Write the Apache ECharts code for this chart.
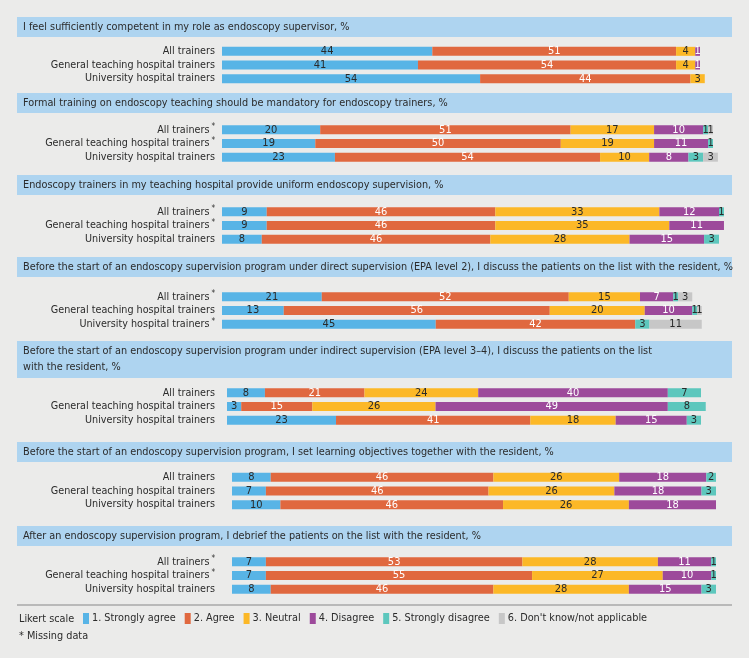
<!DOCTYPE html>
<html><head><meta charset="utf-8">
<script src="https://cdn.jsdelivr.net/npm/echarts@6/dist/echarts.min.js"></script>
<style>html,body{margin:0;padding:0;background:#ebebea;}#c{width:749px;height:658px;}</style>
</head><body><div id="c"></div>
<script>
// ---------- DATA ----------
const questions = [
  'I feel sufficiently competent in my role as endoscopy supervisor, %',
  'Formal training on endoscopy teaching should be mandatory for endoscopy trainers, %',
  'Endoscopy trainers in my teaching hospital provide uniform endoscopy supervision, %',
  'Before the start of an endoscopy supervision program under direct supervision (EPA level 2), I discuss the patients on the list with the resident, %',
  'Before the start of an endoscopy supervision program under indirect supervision (EPA level 3\u20134), I discuss the patients on the list\nwith the resident, %',
  'Before the start of an endoscopy supervision program, I set learning objectives together with the resident, %',
  'After an endoscopy supervision program, I debrief the patients on the list with the resident, %'
];
const groups = ['All trainers', 'General teaching hospital trainers', 'University hospital trainers'];
// 1 = "missing data" asterisk after the group label
const missing = [[0,0,0],[1,1,0],[1,1,0],[1,0,1],[0,0,0],[0,0,0],[1,1,0]];
const likertLevels = ['1. Strongly agree', '2. Agree', '3. Neutral', '4. Disagree', '5. Strongly disagree', "6. Don't know/not applicable"];
const stronglyAgree    = [[44,41,54],[20,19,23],[9,9,8],[21,13,45],[8,3,23],[8,7,10],[7,7,8]];
const agree            = [[51,54,44],[51,50,54],[46,46,46],[52,56,42],[21,15,41],[46,46,46],[53,55,46]];
const neutral          = [[4,4,3],[17,19,10],[33,35,28],[15,20,0],[24,26,18],[26,26,26],[28,27,28]];
const disagree         = [[1,1,0],[10,11,8],[12,11,15],[7,10,0],[40,49,15],[18,18,18],[11,10,15]];
const stronglyDisagree = [[0,0,0],[1,1,3],[1,0,3],[1,1,3],[7,8,3],[2,3,0],[1,1,3]];
const dontKnow         = [[0,0,0],[1,0,3],[0,0,0],[3,1,11],[0,0,0],[0,0,0],[0,0,0]];

// ---------- STYLE / LAYOUT ----------
const levelData = [stronglyAgree, agree, neutral, disagree, stronglyDisagree, dontKnow];
const colors = ['#58b4e6', '#e0683f', '#fcb827', '#9d4a9b', '#5dc7bd', '#c7c7c7'];
const labelColors = ['#2a2a2a', '#ffffff', '#2a2a2a', '#ffffff', '#2a2a2a', '#2a2a2a'];
const FONT = "'Liberation Sans Narrow', 'Arial Narrow', 'DejaVu Sans Condensed', sans-serif";
const TXT = '#2b2b2b';
const layout = [
  {titleTop: 17,  titleH: 20, gridTop: 44.5,  left: 222, right: 49},
  {titleTop: 93,  titleH: 20, gridTop: 123,   left: 222, right: 36},
  {titleTop: 175, titleH: 20, gridTop: 205,   left: 222, right: 30},
  {titleTop: 257, titleH: 20, gridTop: 290,   left: 222, right: 52},
  {titleTop: 341, titleH: 37, gridTop: 386,   left: 227, right: 48},
  {titleTop: 442, titleH: 20, gridTop: 470.5, left: 232, right: 33},
  {titleTop: 526, titleH: 20, gridTop: 555,   left: 232, right: 33}
];
const ROWS_H = 41;

const grids = [], xAxes = [], yAxes = [], series = [], graphics = [];
layout.forEach((L, p) => {
  grids.push({left: L.left, right: L.right, top: L.gridTop, height: ROWS_H});
  xAxes.push({type: 'value', gridIndex: p, min: 0, max: 100, show: false});
  yAxes.push({
    type: 'category', gridIndex: p, inverse: true,
    data: groups.map((g, i) => missing[p][i] ? '{n|' + g + '}{s|*}' : '{n|' + g + '}'),
    axisLine: {show: false}, axisTick: {show: false}, splitLine: {show: false},
    axisLabel: {
      interval: 0,
      margin: L.left - 215,
      rich: {
        n: {fontFamily: FONT, fontSize: 10.7, color: TXT},
        s: {fontFamily: FONT, fontSize: 8, color: TXT, padding: [0, 0, 5, 2]}
      }
    }
  });
  levelData.forEach((arr, k) => {
    series.push({
      type: 'bar', name: likertLevels[k], xAxisIndex: p, yAxisIndex: p,
      stack: 'panel' + p, barWidth: 9, clip: false,
      itemStyle: {color: colors[k]},
      label: {
        show: true, position: 'inside', fontFamily: FONT, fontSize: 11,
        color: labelColors[k],
        formatter: prm => (prm.value > 0 ? String(prm.value) : '')
      },
      emphasis: {disabled: true},
      data: arr[p].map(v => (v > 0 ? v : null))
    });
  });
  graphics.push({type: 'rect', shape: {x: 17, y: L.titleTop, width: 715, height: L.titleH}, style: {fill: '#aed4f0'}, silent: true});
  graphics.push({type: 'text', x: 23, y: L.titleTop + L.titleH / 2,
    style: {text: questions[p], fontFamily: FONT, fontSize: 10.8, fill: TXT, lineHeight: 16,
      verticalAlign: 'middle', textVerticalAlign: 'middle'}, silent: true});
});
graphics.push({type: 'rect', shape: {x: 17, y: 604, width: 715, height: 2}, style: {fill: '#b9b9b9'}, silent: true});
graphics.push({type: 'text', x: 19, y: 619, style: {text: 'Likert scale', fontFamily: FONT, fontSize: 10.8, fill: TXT, verticalAlign: 'middle', textVerticalAlign: 'middle'}, silent: true});
graphics.push({type: 'text', x: 19, y: 636, style: {text: '* Missing data', fontFamily: FONT, fontSize: 10.8, fill: TXT, verticalAlign: 'middle', textVerticalAlign: 'middle'}, silent: true});

const chart = echarts.init(document.getElementById('c'), null, {renderer: 'canvas'});
chart.setOption({
  backgroundColor: '#ebebea',
  animation: false,
  grid: grids, xAxis: xAxes, yAxis: yAxes, series: series,
  legend: {
    data: likertLevels, left: 83, top: 613, padding: 0, icon: 'rect', itemWidth: 6, itemHeight: 11, itemGap: 9,
    selectedMode: false,
    textStyle: {fontFamily: FONT, fontSize: 10.8, color: TXT, padding: [0, 0, 0, -2]}
  },
  graphic: graphics
});
</script>
</body></html>
